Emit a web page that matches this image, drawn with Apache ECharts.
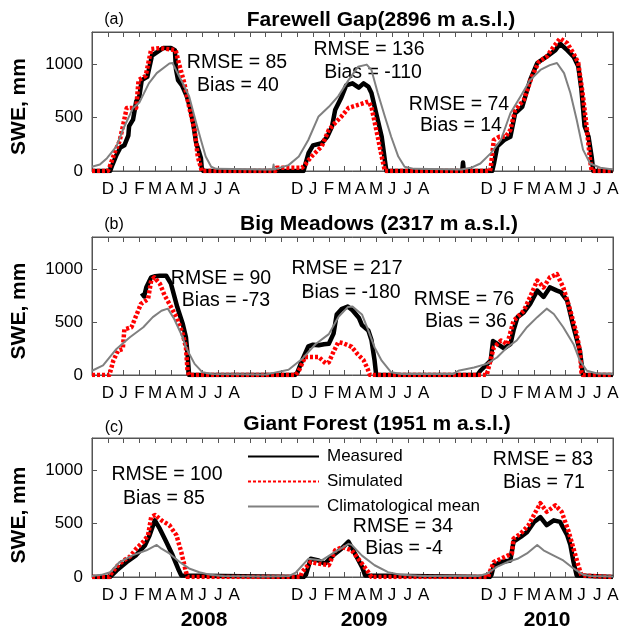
<!DOCTYPE html>
<html><head><meta charset="utf-8">
<script src="https://cdn.jsdelivr.net/npm/echarts@6/dist/echarts.min.js"></script>
<style>html,body{margin:0;padding:0;background:#fff}#c{width:624px;height:633px}</style>
</head><body><div id="c"></div>
<script>
// ---- data (x = months since 1 Nov 2007, y = SWE mm) ----
const monthLabels = ['', 'D', 'J', 'F', 'M', 'A', 'M', 'J', 'J', 'A', '', ''];
const yearLabels = ['2008', '2009', '2010'];
const panelTitles = ['Farewell Gap(2896 m a.s.l.)', 'Big Meadows (2317 m a.s.l.)', 'Giant Forest (1951 m a.s.l.)'];
const panelTags = ['(a)', '(b)', '(c)'];
const seriesNames = ['Measured', 'Simulated', 'Climatological mean'];

const measuredA = [[0,0],[1.15,0],[1.3,60],[1.55,150],[1.8,220],[2.05,240],[2.3,330],[2.35,420],[2.6,480],[2.8,650],[3.0,700],[3.15,850],[3.5,880],[3.8,1080],[4.1,1110],[4.5,1150],[5.0,1150],[5.25,1130],[5.32,950],[5.45,850],[5.7,800],[6.0,700],[6.2,600],[6.4,450],[6.6,260],[6.8,170],[6.9,120],[6.95,30],[7.05,0],
  [13.4,0],[13.55,80],[13.72,170],[14.0,240],[14.55,260],[14.9,320],[15.2,415],[15.4,570],[15.8,690],[16.1,800],[16.5,820],[16.9,780],[17.2,820],[17.5,790],[17.7,730],[18.0,540],[18.35,320],[18.55,100],[18.65,0],
  [23.45,0],[23.5,80],[23.55,0],
  [25.35,0],[25.46,70],[25.67,230],[26.1,290],[26.5,320],[26.8,540],[27.25,600],[27.75,850],[28.2,1010],[28.8,1070],[29.35,1130],[29.65,1190],[30.1,1130],[30.5,1070],[30.8,980],[31.0,760],[31.2,420],[31.45,320],[31.65,130],[31.75,0],[33,0]];
const simulatedA = [[0,0],[1.0,0],[1.1,30],[1.45,180],[1.75,280],[2.0,450],[2.2,590],[2.8,590],[2.95,850],[3.4,890],[3.75,1140],[4.3,1150],[5.3,1130],[5.5,1010],[5.85,820],[6.15,600],[6.5,380],[6.7,135],[6.9,30],[6.95,0],
  [11.6,0],[11.7,30],[13.3,30],[13.5,60],[13.9,135],[14.55,230],[15.0,385],[15.4,450],[15.8,510],[16.25,590],[16.9,620],[17.5,650],[17.7,600],[18.1,320],[18.35,135],[18.55,0],
  [25.2,0],[25.25,25],[25.45,290],[25.8,320],[26.2,320],[26.5,385],[26.8,570],[27.35,665],[27.85,880],[28.3,1020],[28.8,1070],[29.25,1165],[29.65,1240],[30.1,1195],[30.5,1100],[30.8,1010],[31.1,700],[31.35,385],[31.55,100],[31.65,0],[33,0]];
const climA = [[0,40],[0.5,60],[0.95,120],[1.55,230],[2.0,400],[2.6,590],[3.0,640],[3.6,820],[4.1,915],[4.9,1005],[5.1,1010],[5.3,950],[5.75,820],[6.15,700],[6.6,450],[6.9,290],[7.2,135],[7.55,40],[7.85,20],[11.0,15],[11.45,15],[11.5,60],[11.55,15],
  [12.45,55],[13.1,135],[13.7,290],[14.35,510],[15.0,600],[15.6,700],[16.25,850],[16.85,975],[17.4,995],[17.7,945],[18.1,730],[18.55,510],[18.95,320],[19.4,135],[19.8,40],[20.4,20],[23.4,15],
  [24.0,30],[24.6,70],[25.25,165],[25.9,290],[26.5,540],[27.15,700],[27.75,850],[28.4,945],[29.0,990],[29.45,1010],[29.9,915],[30.3,730],[30.7,480],[31.1,200],[31.55,70],[32.2,30],[33,15]];

const measuredB = [[3.15,770],[3.3,740],[3.45,830],[3.75,920],[4.0,930],[4.3,935],[4.7,935],[5.0,860],[5.4,640],[5.75,480],[5.95,355],[6.05,200],[6.15,0],
  [12.85,0],[13.0,20],[13.3,135],[13.7,270],[14.0,285],[14.35,280],[14.7,290],[15.0,295],[15.3,390],[15.5,570],[15.8,620],[16.2,645],[16.5,610],[16.9,540],[17.1,470],[17.5,420],[17.7,330],[17.9,135],[18.0,0],
  [24.4,0],[24.6,40],[25.25,135],[25.4,320],[25.5,330],[25.7,290],[26.1,250],[26.5,290],[26.7,420],[26.95,545],[27.35,590],[27.75,670],[28.2,795],[28.6,735],[29.0,825],[29.45,795],[29.7,780],[30.1,700],[30.5,450],[30.9,230],[31.1,0],[33,0]];
const simulatedB = [[0,0],[1.1,0],[1.35,135],[1.65,230],[1.95,245],[2.05,430],[2.5,450],[2.8,560],[3.1,670],[3.55,715],[3.75,890],[3.95,920],[4.3,860],[4.6,750],[4.9,670],[5.35,545],[5.75,385],[5.95,260],[6.05,40],[6.15,0],
  [12.9,0],[13.1,40],[13.5,170],[14.35,170],[14.8,110],[15.0,120],[15.3,220],[15.6,310],[15.9,300],[16.45,265],[16.8,200],[17.2,140],[17.45,60],[17.6,0],
  [25.0,0],[25.45,260],[25.9,325],[26.3,290],[26.7,510],[27.35,605],[27.75,735],[28.2,890],[28.6,825],[29.0,920],[29.45,950],[29.85,825],[30.3,605],[30.7,385],[30.9,230],[31.0,25],[31.1,0],[33,0]];
const climB = [[0,40],[0.7,90],[1.55,245],[2.4,355],[3.25,450],[3.85,545],[4.4,605],[4.8,625],[5.2,530],[5.65,385],[6.05,230],[6.5,105],[7.0,25],[7.6,10],[11.0,5],[11.5,20],
  [12.45,50],[13.3,150],[14.15,290],[15.0,385],[15.6,545],[16.2,640],[16.5,645],[17.1,570],[17.5,420],[17.9,260],[18.35,135],[18.95,25],[19.6,10],[22.9,10],[23.2,40],
  [24.2,70],[25.0,105],[25.65,165],[26.3,260],[26.9,325],[27.55,450],[28.2,545],[28.8,625],[29.25,575],[29.85,450],[30.5,290],[30.9,135],[31.35,40],[32.0,15],[33,10]];

const measuredC = [[0,0],[1.15,0],[1.55,60],[2.2,140],[2.8,205],[3.35,295],[3.65,390],[3.98,530],[4.3,450],[4.7,330],[5.1,205],[5.45,80],[5.65,15],[5.75,0],
  [13.4,0],[13.55,20],[13.85,170],[14.35,155],[14.75,125],[15.3,205],[15.8,265],[16.25,330],[16.65,220],[17.1,95],[17.3,15],[17.35,0],
  [25.2,0],[25.3,20],[25.45,110],[25.9,140],[26.5,155],[26.7,330],[27.15,375],[27.55,420],[28.0,515],[28.4,560],[28.8,485],[29.25,530],[29.65,515],[30.1,390],[30.3,300],[30.5,140],[30.7,15],[30.8,0],[33,0]];
const simulatedC = [[0,0],[1.1,0],[1.15,20],[1.55,95],[2.0,155],[2.4,190],[2.8,265],[3.25,330],[3.55,390],[3.75,560],[4.0,580],[4.4,530],[4.9,485],[5.35,390],[5.65,235],[5.95,50],[6.05,0],
  [13.2,0],[13.3,45],[13.85,140],[14.35,125],[15.0,110],[15.4,250],[15.85,280],[16.45,250],[17.1,125],[17.5,45],[17.7,0],
  [25.1,0],[25.15,30],[25.45,140],[26.1,185],[26.6,220],[26.7,360],[27.15,405],[27.65,485],[28.1,610],[28.4,690],[28.8,610],[29.35,670],[29.75,610],[30.2,420],[30.5,265],[30.8,110],[31.0,15],[31.1,0],[33,0]];
const climC = [[0,10],[0.6,20],[1.15,45],[1.75,140],[2.6,205],[3.45,250],[4.1,300],[4.4,265],[4.9,220],[5.55,140],[6.15,80],[6.8,45],[7.45,22],[8.3,10],[11.0,5],
  [12.5,10],[12.9,40],[13.7,170],[14.55,155],[15.4,235],[16.25,310],[16.45,300],[17.1,200],[17.9,110],[18.75,45],[19.6,20],[21,10],
  [24.5,10],[25.0,30],[25.65,95],[26.3,140],[26.95,170],[27.55,220],[28.2,300],[28.6,250],[29.25,200],[29.85,155],[30.5,80],[31.1,22],[31.6,10],[33,5]];

const rmseVals = [[85, 136, 74], [90, 217, 76], [100, 34, 83]];
const biasVals = [[40, -110, 14], [-73, -180, 36], [85, -4, 71]];

// ---- layout ----
const FONT = '"Liberation Sans", Arial, Helvetica, sans-serif';
const grids = [{top: 32, height: 139}, {top: 237, height: 138}, {top: 438, height: 139}];
const panelData = [[measuredA, simulatedA, climA], [measuredB, simulatedB, climB], [measuredC, simulatedC, climC]];
const titlePos = [[381, 20], [379, 224.5], [377, 424]];
const tagPos = [[114, 20], [114, 225], [114, 428]];
const swePos = [[19, 106.5], [19, 311], [19, 515]];
const yearPos = [[204, 620], [364, 620], [547, 620]];
const annPos = [
  [[237, 62.5, 238, 86], [369, 50, 373, 72.5], [459, 105, 461, 126]],
  [[221, 279, 226, 301], [347, 269, 351, 292.5], [464, 300, 466, 322]],
  [[167, 475, 164, 499], [403, 527, 404, 549], [543, 459.5, 544, 482.5]]
];
const lineStyles = [
  {color: '#000000', width: 4.5, type: 'solid'},
  {color: '#ff0000', width: 4.5, type: [3, 2]},
  {color: '#808080', width: 2, type: 'solid'}
];
const axisColor = '#555555';

const chart = echarts.init(document.getElementById('c'), null, {renderer: 'canvas'});
const grid = [], xAxis = [], yAxis = [], series = [], graphic = [];

function txt(text, x, y, font, extra) {
  return Object.assign({type: 'text', x: x, y: y, silent: true,
    style: {text: text, font: font, fill: '#000', align: 'center', verticalAlign: 'middle',
            textAlign: 'center', textVerticalAlign: 'middle'}}, extra || {});
}
const mkLine = () => ({show: true, onZero: false, lineStyle: {color: axisColor, width: 1}});
const mkTick = () => ({show: true, inside: true, length: 5, lineStyle: {color: axisColor, width: 1}});

grids.forEach((g, i) => {
  grid.push({left: 92, width: 525, top: g.top, height: g.height,
    show: true, borderColor: axisColor, borderWidth: 1, backgroundColor: 'transparent'});
  xAxis.push({type: 'value', gridIndex: i, min: 0, max: 33, interval: 1, position: 'bottom',
    axisLine: mkLine(), axisTick: mkTick(), splitLine: {show: false},
    axisLabel: {show: true, margin: 10, color: '#000', fontSize: 17, fontFamily: FONT,
      formatter: v => monthLabels[((Math.round(v)) % 12 + 12) % 12]}});
  xAxis.push({type: 'value', gridIndex: i, min: 0, max: 33, interval: 1, position: 'top',
    axisLine: mkLine(), axisTick: mkTick(), splitLine: {show: false},
    axisLabel: {show: true, color: 'rgba(0,0,0,0)', fontSize: 1, formatter: () => ''}});
  yAxis.push({type: 'value', gridIndex: i, min: 0, max: 1300, interval: 500, position: 'left',
    axisLine: mkLine(), axisTick: mkTick(), splitLine: {show: false},
    axisLabel: {margin: 9, color: '#000', fontSize: 17, fontFamily: FONT,
      formatter: v => (v > 1000 ? '' : String(v))}});
  yAxis.push({type: 'value', gridIndex: i, min: 0, max: 1300, interval: 500, position: 'right',
    axisLine: mkLine(), axisTick: mkTick(), splitLine: {show: false},
    axisLabel: {show: true, color: 'rgba(0,0,0,0)', fontSize: 1, formatter: () => ''}});

  panelData[i].forEach((d, k) => {
    series.push({name: seriesNames[k], type: 'line', xAxisIndex: 2 * i, yAxisIndex: 2 * i,
      data: d, symbol: 'none', showSymbol: false, animation: false, z: 2 + k,
      lineStyle: Object.assign({cap: 'butt', join: 'round'}, lineStyles[k]),
      itemStyle: {color: lineStyles[k].color}});
  });

  graphic.push(txt(panelTitles[i], titlePos[i][0], titlePos[i][1], 'bold 21px ' + FONT));
  graphic.push(txt(panelTags[i], tagPos[i][0], tagPos[i][1], '16px ' + FONT));
  graphic.push(txt('SWE, mm', swePos[i][0], swePos[i][1], 'bold 21px ' + FONT, {rotation: Math.PI / 2}));
  annPos[i].forEach((p, k) => {
    graphic.push(txt('RMSE = ' + rmseVals[i][k], p[0], p[1], '19.5px ' + FONT));
    graphic.push(txt('Bias = ' + biasVals[i][k], p[2], p[3], '19.5px ' + FONT));
  });
});
yearLabels.forEach((y, k) => graphic.push(txt(y, yearPos[k][0], yearPos[k][1], 'bold 21px ' + FONT)));

chart.setOption({
  animation: false,
  backgroundColor: '#ffffff',
  grid: grid, xAxis: xAxis, yAxis: yAxis, series: series,
  legend: {orient: 'vertical', left: 242, top: 443, itemWidth: 71, itemHeight: 17, itemGap: 8,
    data: seriesNames, selectedMode: false,
    itemStyle: {opacity: 0, borderWidth: 0},
    textStyle: {fontSize: 17, fontFamily: FONT, color: '#000', padding: [0, 0, 0, 3]}},
  graphic: graphic
});
</script></body></html>
